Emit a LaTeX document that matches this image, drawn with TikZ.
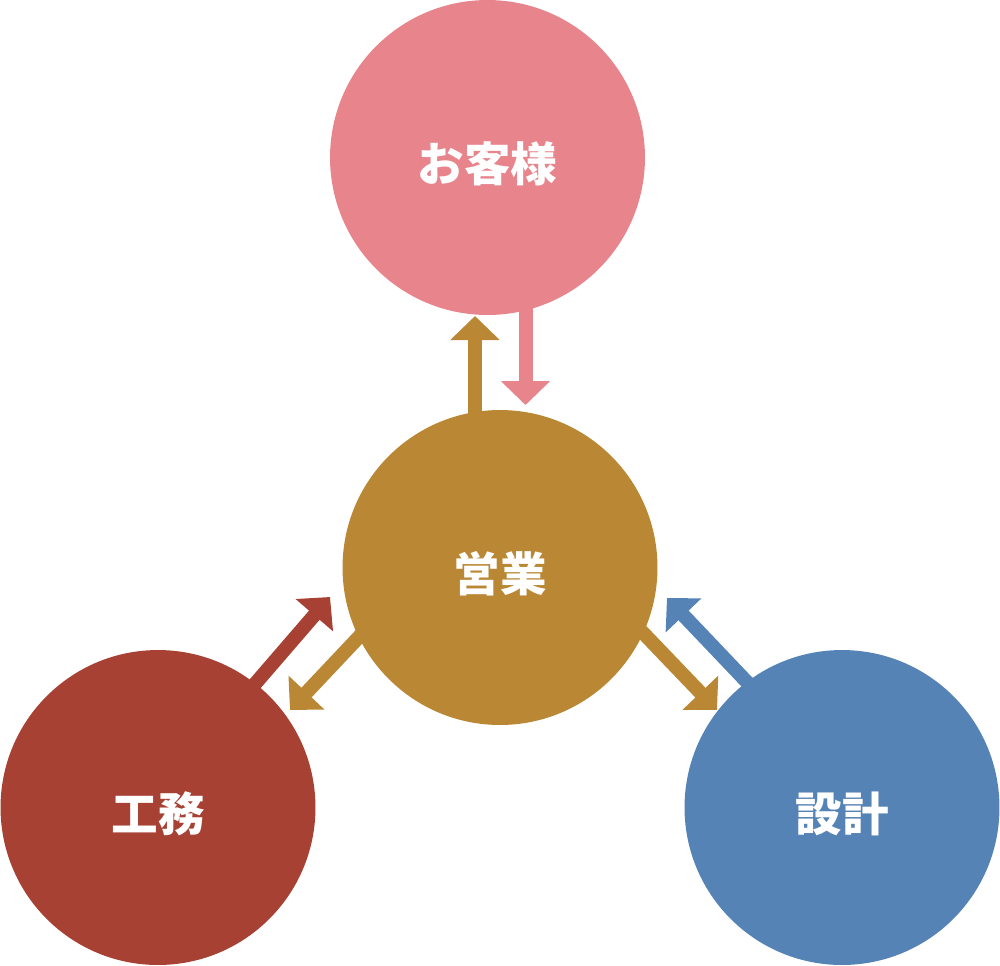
\documentclass[tikz,border=0pt]{standalone}
\usepackage{fontspec}
\newfontfamily\jpfont{Noto Sans CJK JP}
\usetikzlibrary{arrows.meta}

\definecolor{custpink}{RGB}{232,132,140}
\definecolor{salesgold}{RGB}{186,136,52}
\definecolor{worksred}{RGB}{166,65,51}
\definecolor{designblue}{RGB}{85,131,181}

\begin{document}
\begin{tikzpicture}[
    x=0.02cm, y=-0.02cm,
    circ/.style={circle, minimum size=6.3cm, inner sep=0pt, text=white, text height=27pt, text depth=0pt, font=\jpfont\bfseries\fontsize{26.5}{30}\selectfont},
    arrow/.style={-{Triangle[length=0.48cm, width=0.96cm]}, line width=0.28cm},
]
\useasboundingbox (0,0) rectangle (1000,965);

% Circles
\node[circ, fill=custpink] (cust) at (487.5,157.5) {お客様};
\node[circ, fill=salesgold] (sales) at (500,567.5) {営業};
\node[circ, fill=worksred] (works) at (158,807.5) {工務};
\node[circ, fill=designblue] (design) at (842,807.5) {設計};

% Sales <-> Customer
\draw[arrow, salesgold] (sales.center |- 0,420) ++(-25,0) coordinate (s1) -- (s1 |- 0,316) coordinate (c1);
\draw[arrow, custpink] (cust.center |- 0,300) ++(38,0) coordinate (c2) -- (c2 |- 0,405);

% Works <-> Sales
\draw[arrow, worksred] (works) ++(87,-112) coordinate (w1) -- (330,597) coordinate (s2);
\draw[arrow, salesgold] (sales) ++(-135,63) coordinate (s3) -- (290,710) coordinate (w2);

% Sales <-> Design
\draw[arrow, salesgold] (sales) ++(138,60) coordinate (s4) -- (717,710) coordinate (d1);
\draw[arrow, designblue] (design) ++(-87,-117) coordinate (d2) -- (667,598) coordinate (s5);

\end{tikzpicture}
\end{document}
